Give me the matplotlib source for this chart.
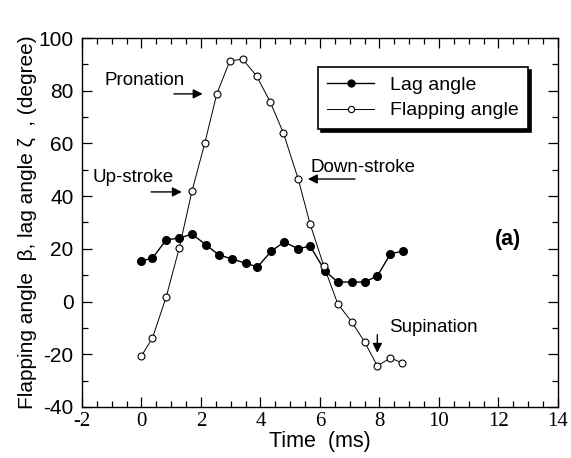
import matplotlib.pyplot as plt
from matplotlib.ticker import MultipleLocator

plt.rcParams['axes.unicode_minus'] = False

# lag angle (filled dots)
lag_t = [0, 0.37, 0.83, 1.27, 1.7, 2.17, 2.6, 3.03, 3.5, 3.9, 4.37, 4.8, 5.27,
         5.67, 6.17, 6.6, 7.07, 7.5, 7.93, 8.37, 8.8]
lag = [15.4, 16.5, 23.4, 24.1, 25.6, 21.5, 17.7, 16.2, 14.6, 13.1, 19.2, 22.6,
       20.0, 21.1, 11.6, 7.4, 7.4, 7.4, 9.7, 18.1, 19.2]

# flapping angle (open circles)
flap_t = [0, 0.37, 0.83, 1.27, 1.7, 2.13, 2.53, 2.97, 3.4, 3.87, 4.33, 4.77,
          5.27, 5.67, 6.13, 6.6, 7.07, 7.5, 7.93, 8.37, 8.77]
flap = [-20.6, -13.8, 1.7, 20.3, 42.0, 60.2, 78.7, 91.3, 92.0, 85.6, 75.7,
        64.0, 46.5, 29.4, 13.5, -0.9, -7.7, -15.3, -24.4, -21.4, -23.3]

sans = 'Liberation Sans'
serif = 'Liberation Serif'

fig = plt.figure(figsize=(5.71, 4.58), dpi=100)
ax = fig.add_axes([0.1436, 0.1114, 0.8334, 0.8056])

ax.plot(lag_t, lag, '-', color='black', lw=1.0, marker='o', ms=5.5,
        mfc='black', mec='black', label='Lag angle')
ax.plot(flap_t, flap, '-', color='black', lw=0.7, marker='o', ms=5,
        mfc='white', mec='black', mew=0.8, label='Flapping angle')

ax.set_xlim(-2, 14)
ax.set_ylim(-40, 100)
ax.xaxis.set_major_locator(MultipleLocator(2))
ax.xaxis.set_minor_locator(MultipleLocator(0.5))
ax.yaxis.set_major_locator(MultipleLocator(20))
ax.yaxis.set_minor_locator(MultipleLocator(10))
ax.tick_params(which='both', direction='in', top=True, right=True, width=0.9)
ax.tick_params(which='major', length=7)
ax.tick_params(which='minor', length=4)
ax.tick_params(axis='y', pad=6)
for lbl in ax.get_xticklabels():
    lbl.set_fontfamily(serif)
    lbl.set_fontsize(15)
for lbl in ax.get_yticklabels():
    lbl.set_fontfamily(sans)
    lbl.set_fontsize(15)
for s in ax.spines.values():
    s.set_linewidth(1.0)

ax.set_xlabel('Time  (ms)', family=sans, fontsize=15.5, labelpad=0)
ax.set_ylabel('Flapping angle  \u03b2, lag angle \u03b6  , (degree)',
              family=sans, fontsize=15, labelpad=1)

leg = ax.legend(loc='upper right', bbox_to_anchor=(0.958, 0.9485), frameon=True,
                fancybox=False,
                shadow={'facecolor': 'black', 'edgecolor': 'black', 'alpha': 1.0},
                prop={'family': sans, 'size': 14},
                handlelength=2.4, borderpad=0.5, labelspacing=0.4,
                markerscale=0.9)
leg.get_frame().set_edgecolor('black')
leg.get_frame().set_linewidth(1.2)

arrow = dict(arrowstyle='-|>', color='black', lw=1.0, mutation_scale=14)
txt = dict(family=sans, fontsize=13.5)
ax.annotate('', xy=(2.15, 78.8), xytext=(1.0, 78.8), arrowprops=arrow)
ax.text(-1.25, 82.2, 'Pronation', **txt)
ax.annotate('', xy=(1.45, 41.6), xytext=(0.23, 41.6), arrowprops=arrow)
ax.text(-1.65, 45.4, 'Up-stroke', **txt)
ax.annotate('', xy=(5.5, 46.5), xytext=(7.27, 46.5), arrowprops=arrow)
ax.text(5.67, 49.2, 'Down-stroke', **txt)
ax.annotate('', xy=(7.93, -20.5), xytext=(7.93, -11.5), arrowprops=arrow)
ax.text(8.33, -11.5, 'Supination', **txt)
ax.text(11.87, 21.5, '(a)', family=sans, fontsize=15.5, fontweight='bold')

fig.savefig('out.png', dpi=100)
